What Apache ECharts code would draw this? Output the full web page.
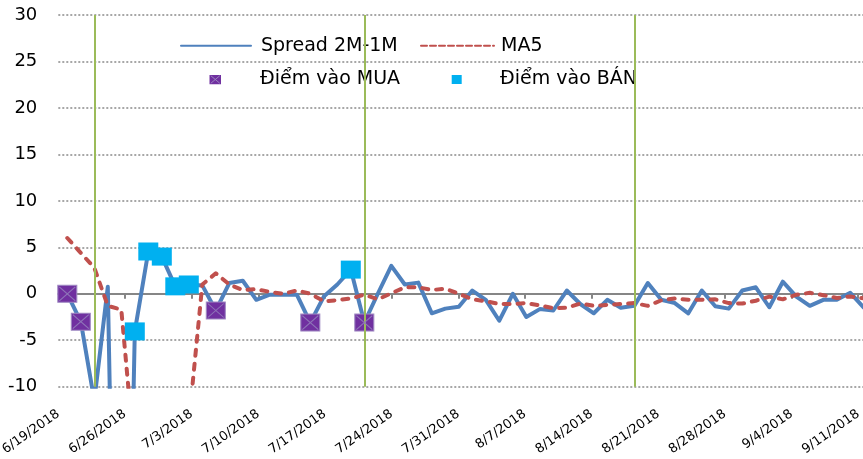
<!DOCTYPE html>
<html>
<head>
<meta charset="utf-8">
<script src="https://cdn.jsdelivr.net/npm/echarts@6/dist/echarts.min.js"></script>
<style>html,body{margin:0;padding:0;background:#fff}#c{width:863px;height:459px}</style>
</head>
<body>
<div id="c"></div>
<script>
// Trading days (category axis of the series)
const categories = [
  '6/20/2018','6/21/2018','6/22/2018',
  '6/25/2018','6/26/2018','6/27/2018','6/28/2018','6/29/2018',
  '7/2/2018','7/3/2018','7/4/2018','7/5/2018','7/6/2018',
  '7/9/2018','7/10/2018','7/11/2018','7/12/2018','7/13/2018',
  '7/16/2018','7/17/2018','7/18/2018','7/19/2018','7/20/2018',
  '7/23/2018','7/24/2018','7/25/2018','7/26/2018','7/27/2018',
  '7/30/2018','7/31/2018','8/1/2018','8/2/2018','8/3/2018',
  '8/6/2018','8/7/2018','8/8/2018','8/9/2018','8/10/2018',
  '8/13/2018','8/14/2018','8/15/2018','8/16/2018','8/17/2018',
  '8/20/2018','8/21/2018','8/22/2018','8/23/2018','8/24/2018',
  '8/27/2018','8/28/2018','8/29/2018','8/30/2018','8/31/2018',
  '9/3/2018','9/4/2018','9/5/2018','9/6/2018','9/7/2018',
  '9/10/2018','9/11/2018'
];
const spread = [
  0, -3.0, -11.5, 0.75, -75, -4.05, 4.55, 4.0, 0.8, 1.0,
  0.9, -1.8, 1.15, 1.4, -0.65, -0.1, -0.1, -0.1, -3.1, -0.3,
  1.0, 2.6, -3.1, 0.0, 3.0, 1.0, 1.2, -2.1, -1.6, -1.4,
  0.35, -0.65, -2.9, 0.0, -2.5, -1.65, -1.8, 0.35, -1.1, -2.1,
  -0.65, -1.5, -1.3, 1.15, -0.65, -1.0, -2.1, 0.35, -1.35, -1.6,
  0.35, 0.7, -1.45, 1.3, -0.3, -1.3, -0.65, -0.65, 0.1, -1.5
];
const ma5 = [
  6.0, 4.4, 2.8, -1.3, -1.7, -17.7, -18.6, -17.1, -14.0, -13.9,
  1.0, 2.2, 1.0, 0.4, 0.5, 0.2, 0.0, 0.35, 0.0, -0.8,
  -0.7, -0.5, -0.1, -0.6, 0.05, 0.7, 0.7, 0.4, 0.55, 0.0,
  -0.6, -0.8, -1.1, -1.1, -1.0, -1.25, -1.55, -1.5, -1.05, -1.3,
  -1.2, -1.1, -1.0, -1.3, -0.7, -0.5, -0.65, -0.65, -0.6, -1.0,
  -1.05, -0.75, -0.3, -0.6, -0.1, 0.1, -0.15, -0.45, -0.3, -0.5
];
const buyDates = ['6/20/2018','6/21/2018','7/5/2018','7/16/2018','7/20/2018'];
const buyValues = [0, -3.0, -1.8, -3.1, -3.1];
const sellDates = ['6/27/2018','6/28/2018','6/29/2018','7/2/2018','7/3/2018','7/19/2018'];
const sellValues = [-4.05, 4.55, 4.0, 0.8, 1.0, 2.6];
const signalLineDates = ['6/22/2018','7/20/2018','8/17/2018'];
const tickLabels = ['6/19/2018','6/26/2018','7/3/2018','7/10/2018','7/17/2018','7/24/2018',
  '7/31/2018','8/7/2018','8/14/2018','8/21/2018','8/28/2018','9/4/2018','9/11/2018'];
const yMin = -10, yMax = 30, yStep = 5;

const FONT = 'DejaVu Sans';
const muaIconSvg = '<svg xmlns="http://www.w3.org/2000/svg" width="12" height="10" viewBox="0 0 12 10">' +
  '<rect x="0" y="0" width="12" height="10" fill="#7030A0"/>' +
  '<path d="M1.5,1.2L10.5,8.8M10.5,1.2L1.5,8.8" stroke="#9A84BE" stroke-width="1" fill="none"/></svg>';
const muaIcon = 'image://data:image/svg+xml;charset=utf-8,' + encodeURIComponent(muaIconSvg);

const chart = echarts.init(document.getElementById('c'), null, {renderer: 'canvas'});
const legendText = {fontFamily: FONT, fontSize: 19, color: '#000', lineHeight: 20};
const option = {
  animation: false,
  backgroundColor: '#fff',
  grid: [
    {left: 67.3, width: 796.5, top: 15, bottom: 72.3, containLabel: false, outerBoundsMode: 'none'},
    {left: 58.3, right: 0, top: 15, bottom: 72.3, containLabel: false, outerBoundsMode: 'none'}
  ],
  xAxis: [
    {type: 'category', gridIndex: 0, data: categories, boundaryGap: false, show: false},
    {type: 'value', gridIndex: 1, min: 0, max: 84.5, interval: 7, offset: 10,
     axisLine: {show: true, lineStyle: {color: '#868686', width: 2}},
     axisTick: {show: true, length: 5, lineStyle: {color: '#868686', width: 2}},
     splitLine: {show: false},
     axisLabel: {rotate: 35, margin: 16, fontFamily: FONT, fontSize: 13, color: '#000',
       formatter: function (v) { const k = Math.round(v / 7); return Math.abs(v - k * 7) < 1e-6 && tickLabels[k] ? tickLabels[k] : ''; }}}
  ],
  yAxis: [
    {type: 'value', gridIndex: 0, min: yMin, max: yMax, interval: yStep, show: false},
    {type: 'value', gridIndex: 1, min: yMin, max: yMax, interval: yStep,
     axisLine: {show: false}, axisTick: {show: false},
     axisLabel: {fontFamily: FONT, fontSize: 18, color: '#000', margin: 21},
     splitLine: {show: true, lineStyle: {color: '#8a8a8a', width: 1.5, type: [2, 2]}}}
  ],
  legend: [
    {data: ['Spread 2M-1M'], left: 180, top: 35.7, padding: 0, itemWidth: 70, itemHeight: 14,
     textStyle: Object.assign({padding: [0, 0, 0, 5]}, legendText),
     itemStyle: {opacity: 0}, lineStyle: {width: 2, opacity: 1}, selectedMode: false},
    {data: ['MA5'], left: 420, top: 35.7, padding: 0, itemWidth: 73, itemHeight: 14,
     textStyle: Object.assign({padding: [0, 0, 0, 2]}, legendText),
     itemStyle: {opacity: 0}, lineStyle: {width: 2, type: [6, 3], opacity: 1}, selectedMode: false},
    {data: [{name: 'Điểm vào MUA', icon: muaIcon}], left: 209.3, top: 69.5, padding: 0, itemWidth: 12, itemHeight: 10,
     textStyle: Object.assign({padding: [0, 0, 0, 33.7]}, legendText), selectedMode: false},
    {data: [{name: 'Điểm vào BÁN', icon: 'rect'}], left: 451.7, top: 69.5, padding: 0, itemWidth: 10, itemHeight: 9,
     textStyle: Object.assign({padding: [0, 0, 0, 33.3]}, legendText), selectedMode: false}
  ],
  series: [
    {name: 'Spread 2M-1M', type: 'line', xAxisIndex: 0, yAxisIndex: 0, data: spread, symbol: 'none',
     lineStyle: {color: '#4F81BD', width: 4, join: 'round', cap: 'round'}, itemStyle: {color: '#4F81BD'}, z: 2,
     markLine: {silent: true, symbol: ['none', 'none'], label: {show: false},
       lineStyle: {color: '#9BBB59', width: 2, type: 'solid'},
       data: signalLineDates.map(function (d) { return {xAxis: d}; })}},
    {name: 'MA5', type: 'line', xAxisIndex: 0, yAxisIndex: 0, data: ma5, symbol: 'none',
     lineStyle: {color: '#C0504D', width: 4, type: [6, 8], cap: 'round', join: 'round'}, itemStyle: {color: '#C0504D'}, z: 3},
    {name: 'Điểm vào MUA', type: 'scatter', xAxisIndex: 0, yAxisIndex: 0,
     data: buyDates.map(function (d, i) { return [d, buyValues[i]]; }),
     symbol: 'rect', symbolSize: [19, 17],
     itemStyle: {color: '#7030A0', borderColor: '#9F89C2', borderWidth: 1, opacity: 1}, z: 4},
    {name: 'muaX', type: 'scatter', xAxisIndex: 0, yAxisIndex: 0, silent: true,
     data: buyDates.map(function (d, i) { return [d, buyValues[i]]; }),
     symbol: 'path://M0,0L10,10M10,0L0,10', symbolSize: [16, 14],
     itemStyle: {color: 'none', borderColor: '#8E74B8', borderWidth: 1.1, opacity: 1}, z: 5},
    {name: 'Điểm vào BÁN', type: 'scatter', xAxisIndex: 0, yAxisIndex: 0,
     data: sellDates.map(function (d, i) { return [d, sellValues[i]]; }),
     symbol: 'rect', symbolSize: [20, 18],
     itemStyle: {color: '#00B0F0', opacity: 1}, z: 4}
  ]
};
chart.setOption(option);
</script>
</body>
</html>
